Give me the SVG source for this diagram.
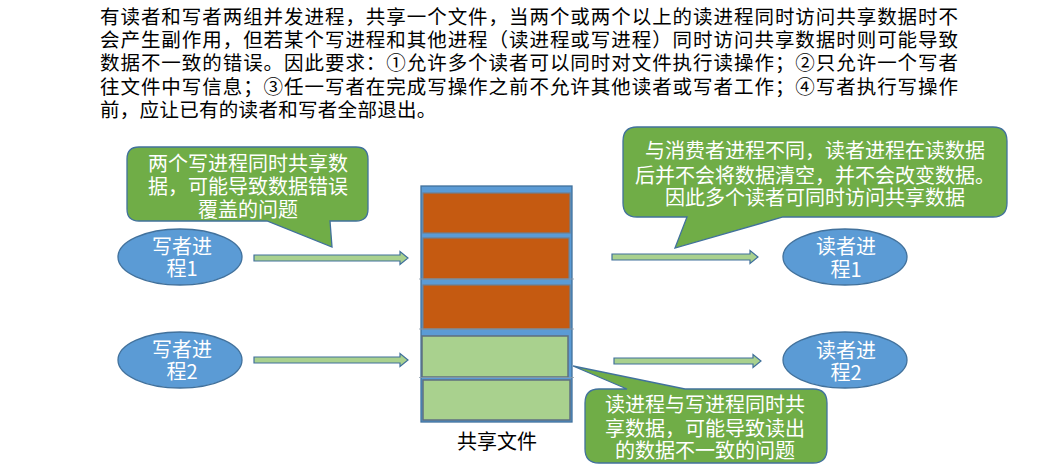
<svg xmlns="http://www.w3.org/2000/svg" width="1051" height="465" viewBox="0 0 1051 465">
<style>
text{font-family:"Noto Sans CJK SC","Noto Sans",sans-serif;}
.para{font-size:19.5px;fill:#000;}
.w{font-size:20px;fill:#fff;text-anchor:middle;}
.lbl{font-size:20px;fill:#000;text-anchor:middle;}
.callout{fill:#70AD47;stroke:#41719C;stroke-width:1.3;}
.ell{fill:#5B9BD5;stroke:#41719C;stroke-width:1.3;}
.arr{fill:#A9D18E;stroke:#41719C;stroke-width:1.2;}
.org{fill:#C55A11;stroke:#6F7F8F;stroke-width:1.2;}
.grn{fill:#A9D18E;stroke:#5F6F7F;stroke-width:1.5;}
</style>
<rect width="1051" height="465" fill="#fff"/>
<g id="paragraph">
<text class="para"><tspan x="100" y="24" textLength="858" lengthAdjust="spacing">有读者和写者两组并发进程，共享一个文件，当两个或两个以上的读进程同时访问共享数据时不</tspan><tspan x="100" y="47" textLength="858" lengthAdjust="spacing">会产生副作用，但若某个写进程和其他进程（读进程或写进程）同时访问共享数据时则可能导致</tspan><tspan x="100" y="70" textLength="858" lengthAdjust="spacing">数据不一致的错误。因此要求：①允许多个读者可以同时对文件执行读操作；②只允许一个写者</tspan><tspan x="100" y="94" textLength="858" lengthAdjust="spacing">往文件中写信息；③任一写者在完成写操作之前不允许其他读者或写者工作；④写者执行写操作</tspan><tspan x="100" y="117" letter-spacing="0.3">前，应让已有的读者和写者全部退出。</tspan></text>
</g>
<g id="connectors">
<path class="arr" d="M254,255 H400 V251.5 L408,258 L400,264.5 V261 H254 Z"/>
<path class="arr" d="M254,357 H400 V353.5 L408,360 L400,366.5 V363 H254 Z"/>
<path class="arr" d="M612,254 H750 V250.5 L758,257 L750,263.5 V260 H612 Z"/>
<path class="arr" d="M614,358 H753 V354.5 L761,361 L753,367.5 V364 H614 Z"/>
</g>
<g id="callout-writers">
<path class="callout" d="M139,147 H356 Q368,147 368,159 V209 Q368,221 356,221 H330 L332,247 L267,221 H139 Q127,221 127,209 V159 Q127,147 139,147 Z"/>
<text class="w"><tspan x="248" y="171">两个写进程同时共享数</tspan><tspan x="248" y="194">据，可能导致数据错误</tspan><tspan x="248" y="217">覆盖的问题</tspan></text>
</g>
<g id="writer1">
<ellipse class="ell" cx="180" cy="257" rx="62" ry="28"/>
<text class="w"><tspan x="182" y="254">写者进</tspan><tspan x="182" y="276">程1</tspan></text>
</g>
<g id="writer2">
<ellipse class="ell" cx="180" cy="360" rx="62" ry="28"/>
<text class="w"><tspan x="182" y="357">写者进</tspan><tspan x="182" y="379">程2</tspan></text>
</g>
<g id="shared-file">
<rect x="421" y="186" width="151" height="236" fill="#5B9BD5" stroke="#41719C" stroke-width="1.3"/>
<rect class="org" x="423" y="193" width="147" height="40"/>
<rect class="org" x="423" y="238" width="146" height="41"/>
<rect class="org" x="423" y="285" width="147" height="44"/>
<rect class="grn" x="422" y="336" width="146" height="41"/>
<rect class="grn" x="423" y="380" width="147" height="40"/>
<line x1="419" y1="279" x2="574" y2="279" stroke="#8A9AAA" stroke-width="0.8"/>
<line x1="419" y1="329" x2="574" y2="329" stroke="#8A9AAA" stroke-width="0.8"/>
<line x1="419" y1="377.5" x2="574" y2="377.5" stroke="#8A9AAA" stroke-width="0.8"/>
<text class="lbl" x="497" y="449">共享文件</text>
</g>
<g id="callout-readers">
<path class="callout" d="M637,127 H993 Q1007,127 1007,141 V203 Q1007,217 993,217 H783 L675,248 L687,217 H637 Q623,217 623,203 V141 Q623,127 637,127 Z"/>
<text class="w"><tspan x="815" y="157.5">与消费者进程不同，读者进程在读数据</tspan><tspan x="815" y="182.5">后并不会将数据清空，并不会改变数据。</tspan><tspan x="815" y="205">因此多个读者可同时访问共享数据</tspan></text>
</g>
<g id="reader1">
<ellipse class="ell" cx="845" cy="257" rx="62" ry="28"/>
<text class="w"><tspan x="846" y="254">读者进</tspan><tspan x="846" y="277">程1</tspan></text>
</g>
<g id="reader2">
<ellipse class="ell" cx="845" cy="360" rx="62" ry="28"/>
<text class="w"><tspan x="846" y="357.5">读者进</tspan><tspan x="846" y="380">程2</tspan></text>
</g>
<g id="callout-readwrite">
<path class="callout" d="M599,389 L627,389 L573,366 L685,389 H813 Q827,389 827,403 V449 Q827,463 813,463 H599 Q585,463 585,449 V403 Q585,389 599,389 Z"/>
<text class="w"><tspan x="705" y="411.5">读进程与写进程同时共</tspan><tspan x="705" y="436">享数据，可能导致读出</tspan><tspan x="705" y="457.5">的数据不一致的问题</tspan></text>
</g>
</svg>
